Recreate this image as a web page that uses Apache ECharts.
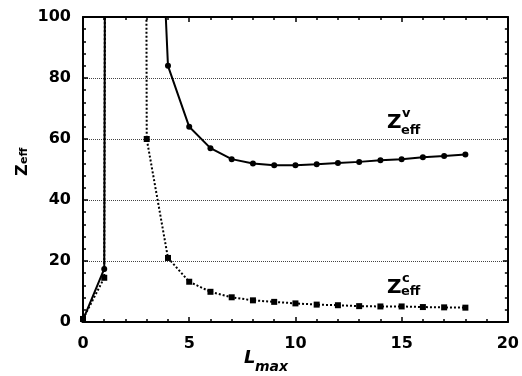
<!DOCTYPE html>
<html>
<head>
    <meta charset="utf-8">
    <title>Zeff vs Lmax</title>
    <script src="https://cdn.jsdelivr.net/npm/echarts@6/dist/echarts.min.js"></script>
    <style>
        html, body { margin: 0; padding: 0; background: #fff; }
        #chart { width: 522px; height: 376px; }
    </style>
</head>
<body>
<div id="chart"></div>
<script type="text/javascript">
    // L_max values (x)
    var lmax = [0, 1, 2, 3, 4, 5, 6, 7, 8, 9, 10, 11, 12, 13, 14, 15, 16, 17, 18];
    // Z_eff^v (solid line) -- x=2,3 are far above the plot (divergence)
    var zValence = [0.7, 17.4, 3000, 240, 84, 64, 57, 53.4, 52, 51.4, 51.4, 51.7, 52.1, 52.5, 53, 53.4, 54, 54.4, 54.9];
    // Z_eff^c (dotted line)
    var zCore = [1, 14.5, 3000, 60, 21, 13.2, 9.9, 8.1, 7.1, 6.6, 6.1, 5.7, 5.5, 5.2, 5.1, 5.1, 4.9, 4.8, 4.7];
    var xTicks = [0, 5, 10, 15, 20];
    var yTicks = [0, 20, 40, 60, 80, 100];

    function pairs(ys) {
        return lmax.map(function (x, i) { return [x, ys[i]]; });
    }

    var font = '"DejaVu Sans", Arial, sans-serif';
    var myChart = echarts.init(document.getElementById('chart'));

    // 同一套刻度, 上/右两条轴只画刻度
    function xAxisCfg(pos, labels) {
        return {
            type: 'value', position: pos,
            min: xTicks[0], max: xTicks[xTicks.length - 1], interval: 5,
            axisLine: { show: true, onZero: false, lineStyle: { color: '#000', width: 2 } },
            axisTick: { show: true, inside: true, length: 5, lineStyle: { color: '#000', width: 1.5 } },
            minorTick: { show: true, splitNumber: 5, length: 3, lineStyle: { color: '#000', width: 1.5 } },
            axisLabel: { show: labels, color: '#000', fontFamily: font, fontWeight: 'bold', fontSize: 16, margin: 14 },
            splitLine: { show: false }
        };
    }
    function yAxisCfg(pos, labels) {
        return {
            type: 'value', position: pos,
            min: yTicks[0], max: yTicks[yTicks.length - 1], interval: 20,
            axisLine: { show: true, onZero: false, lineStyle: { color: '#000', width: 2 } },
            axisTick: { show: true, inside: true, length: 5, lineStyle: { color: '#000', width: 1.5 } },
            minorTick: { show: true, splitNumber: 5, length: 3, lineStyle: { color: '#000', width: 1.5 } },
            axisLabel: { show: labels, color: '#000', fontFamily: font, fontWeight: 'bold', fontSize: 16, margin: 12 },
            splitLine: { show: labels, lineStyle: { color: '#444', width: 1, type: [1, 1] } }
        };
    }

    myChart.setOption({
        animation: false,
        backgroundColor: '#fff',
        grid: { left: 83, right: 12, top: 17, bottom: 54 },
        xAxis: [xAxisCfg('bottom', true), xAxisCfg('top', false)],
        yAxis: [yAxisCfg('left', true), yAxisCfg('right', false)],
        series: [
            {
                name: 'Zv', type: 'line', clip: true,
                data: pairs(zValence),
                symbol: 'circle', symbolSize: 6,
                itemStyle: { color: '#000' },
                lineStyle: { color: '#000', width: 2 }
            },
            {
                name: 'Zc', type: 'line', clip: true,
                data: pairs(zCore),
                symbol: 'rect', symbolSize: 6,
                itemStyle: { color: '#000' },
                lineStyle: { color: '#000', width: 2, type: [2, 2] }
            }
        ],
        graphic: [
            // x axis name: L_max
            { type: 'text', left: 244, top: 349, style: { text: 'L', font: 'italic bold 18px ' + font, fill: '#000' } },
            { type: 'text', left: 255, top: 360, style: { text: 'max', font: 'italic bold 14px ' + font, fill: '#000' } },
            // y axis name: Z_eff (rotated)
            {
                type: 'group', x: 0, y: 176, rotation: Math.PI / 2,
                children: [
                    { type: 'text', x: 0, y: 23, style: { text: 'Z', font: 'bold 16px ' + font, fill: '#000', verticalAlign: 'middle' } },
                    { type: 'text', x: 12, y: 24, style: { text: 'eff', font: 'bold 11px ' + font, fill: '#000', verticalAlign: 'middle' } }
                ]
            },
            // Z^v_eff label
            { type: 'text', left: 387, top: 113, style: { text: 'Z', font: 'bold 20px ' + font, fill: '#000' } },
            { type: 'text', left: 402, top: 107, style: { text: 'v', font: 'bold 13px ' + font, fill: '#000' } },
            { type: 'text', left: 401, top: 124, style: { text: 'eff', font: 'bold 13px ' + font, fill: '#000' } },
            // Z^c_eff label
            { type: 'text', left: 387, top: 278, style: { text: 'Z', font: 'bold 20px ' + font, fill: '#000' } },
            { type: 'text', left: 402, top: 272, style: { text: 'c', font: 'bold 13px ' + font, fill: '#000' } },
            { type: 'text', left: 401, top: 285, style: { text: 'eff', font: 'bold 13px ' + font, fill: '#000' } }
        ]
    });
</script>
</body>
</html>
